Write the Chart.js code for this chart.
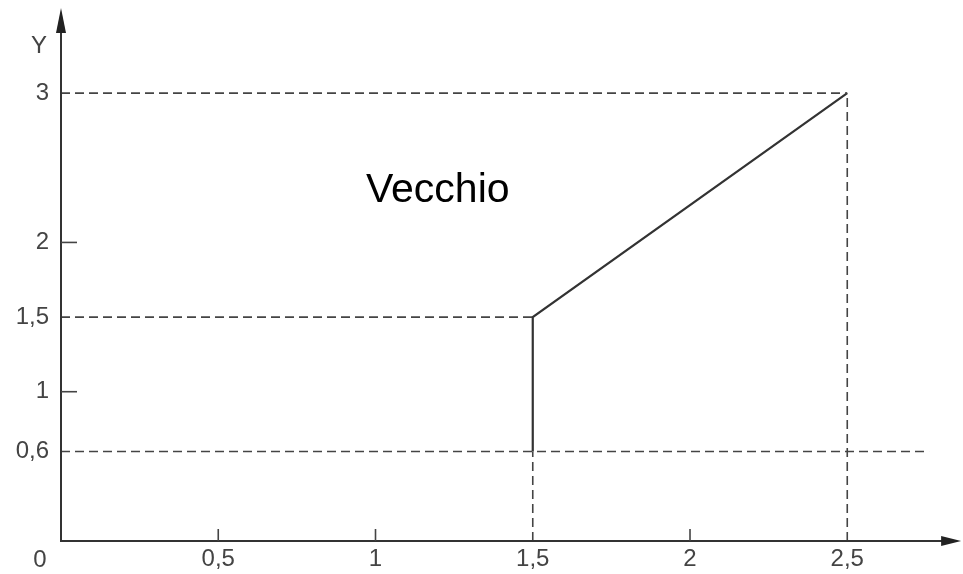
<!DOCTYPE html>
<html>
<head>
<meta charset="utf-8">
<script src="https://cdn.jsdelivr.net/npm/chart.js@4.4.0/dist/chart.umd.min.js"></script>
<style>
  body { margin: 0; background: #fff; }
  #wrap { width: 963px; height: 574px; }
</style>
</head>
<body>
<div id="wrap"><canvas id="chart" width="963" height="574"></canvas></div>
<script>
// tick values
const xTicks = [0.5, 1, 1.5, 2, 2.5];
const yTicks = [0.6, 1, 1.5, 2, 3];
// small tick marks drawn on the axes (no dashed line there)
const xMarks = [0.5, 1, 2];
const yMarks = [1, 2];

// the solid curve
const curveX = [1.5, 1.5, 2.5];
const curveY = [0.6, 1.5, 3];

// dashed guide lines: [x1, y1, x2, y2]
const guideX1 = [0, 2.5, 0, 0, 1.5];
const guideY1 = [3, 0, 1.5, 0.6, 0];
const guideX2 = [2.5, 2.5, 1.5, 2.76, 1.5];
const guideY2 = [3, 3, 1.5, 0.6, 0.6];

// axis ends (arrow tips)
const xAxisEnd = 2.862;
const yAxisEnd = 3.57;

const label = "Vecchio";
const labelX = 1.198;
const labelY = 2.27;

const fmt = v => String(v).replace('.', ',');
const FONT = '"Liberation Sans", Arial, sans-serif';

const datasets = [];
for (let i = 0; i < guideX1.length; i++) {
  datasets.push({
    data: [{ x: guideX1[i], y: guideY1[i] }, { x: guideX2[i], y: guideY2[i] }],
    showLine: true,
    borderColor: '#444',
    borderWidth: 1.6,
    borderDash: [9, 5],
    pointRadius: 0
  });
}
datasets.push({
  data: curveX.map((x, i) => ({ x: x, y: curveY[i] })),
  showLine: true,
  borderColor: '#333',
  borderWidth: 2.2,
  pointRadius: 0
});

// axes with arrows, small ticks and free texts
const axesPlugin = {
  id: 'axes',
  afterDraw(chart) {
    const ctx = chart.ctx;
    const xs = chart.scales.x, ys = chart.scales.y;
    const x0 = xs.getPixelForValue(0), y0 = ys.getPixelForValue(0);
    const xe = xs.getPixelForValue(xAxisEnd), ye = ys.getPixelForValue(yAxisEnd);
    ctx.save();
    ctx.strokeStyle = '#333';
    ctx.fillStyle = '#222';
    ctx.lineWidth = 2;
    ctx.beginPath();
    ctx.moveTo(x0, ye + 10);
    ctx.lineTo(x0, y0);
    ctx.lineTo(xe - 10, y0);
    ctx.stroke();
    // arrows
    ctx.beginPath();
    ctx.moveTo(x0, ye);
    ctx.lineTo(x0 - 5, ye + 25);
    ctx.lineTo(x0 + 5, ye + 25);
    ctx.closePath();
    ctx.fill();
    ctx.beginPath();
    ctx.moveTo(xe, y0);
    ctx.lineTo(xe - 20, y0 - 5);
    ctx.lineTo(xe - 20, y0 + 5);
    ctx.closePath();
    ctx.fill();
    // small tick marks
    ctx.lineWidth = 1.6;
    ctx.strokeStyle = '#444';
    xMarks.forEach(v => {
      const px = xs.getPixelForValue(v);
      ctx.beginPath();
      ctx.moveTo(px, y0);
      ctx.lineTo(px, y0 - 12);
      ctx.stroke();
    });
    yMarks.forEach(v => {
      const py = ys.getPixelForValue(v);
      ctx.beginPath();
      ctx.moveTo(x0, py);
      ctx.lineTo(x0 + 16, py);
      ctx.stroke();
    });
    // texts
    ctx.fillStyle = '#444';
    ctx.font = '24px ' + FONT;
    ctx.textAlign = 'center';
    ctx.textBaseline = 'middle';
    ctx.fillText('0', x0 - 21, y0 + 19);
    ctx.fillText('Y', x0 - 22, ye + 38);
    ctx.fillStyle = '#000';
    ctx.font = '41px ' + FONT;
    ctx.textBaseline = 'alphabetic';
    ctx.fillText(label, xs.getPixelForValue(labelX), ys.getPixelForValue(labelY));
    ctx.restore();
  }
};

new Chart(document.getElementById('chart'), {
  type: 'scatter',
  data: { datasets: datasets },
  plugins: [axesPlugin],
  options: {
    responsive: false,
    animation: false,
    layout: { padding: 0 },
    plugins: { legend: { display: false }, tooltip: { enabled: false } },
    scales: {
      x: {
        type: 'linear',
        min: 0,
        max: 2.868,
        grid: { display: false, drawTicks: false },
        border: { display: false },
        afterBuildTicks: s => { s.ticks = xTicks.map(v => ({ value: v })); },
        afterFit: s => { s.height = 33; s.paddingLeft = 0; s.paddingRight = 0; },
        ticks: {
          padding: 4,
          color: '#444',
          font: { size: 24, family: FONT },
          callback: v => fmt(v)
        }
      },
      y: {
        type: 'linear',
        min: 0,
        max: 3.624,
        grid: { display: false, drawTicks: false },
        border: { display: false },
        afterBuildTicks: s => { s.ticks = yTicks.map(v => ({ value: v })); },
        afterFit: s => { s.width = 61; s.paddingTop = 0; s.paddingBottom = 0; },
        ticks: {
          padding: 12,
          color: '#444',
          font: { size: 24, family: FONT },
          callback: v => fmt(v)
        }
      }
    }
  }
});
</script>
</body>
</html>
